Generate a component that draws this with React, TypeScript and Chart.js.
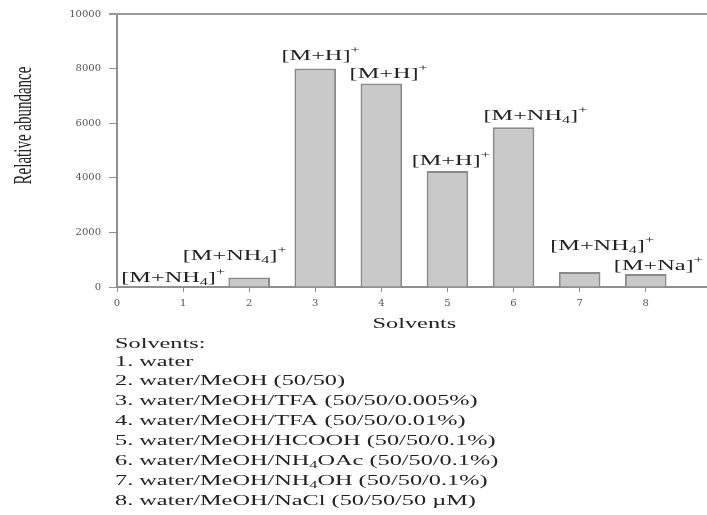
import React, { useEffect, useRef } from "react";
import { Chart, registerables } from "chart.js";

Chart.register(...registerables);

// ---- data ----
const solventIds = [1, 2, 3, 4, 5, 6, 7, 8];
const abundance = [0, 350, 8000, 7450, 4250, 5850, 550, 480];
const ionLabels = [
  "[M+NH_{4}]^{+}",
  "[M+NH_{4}]^{+}",
  "[M+H]^{+}",
  "[M+H]^{+}",
  "[M+H]^{+}",
  "[M+NH_{4}]^{+}",
  "[M+NH_{4}]^{+}",
  "[M+Na]^{+}",
];
// label anchor (centre x, baseline y) in data units
const ionLabelX = [0.85, 1.78, 3.08, 4.11, 5.05, 6.33, 7.34, 8.19];
const ionLabelY = [183, 988, 8306, 7647, 4464, 6110, 1354, 622];
const xMin = 0;
const xMax = 9;
const yMin = 0;
const yMax = 10000;
const yStep = 2000;
const xTitle = "Solvents";
const yTitle = "Relative abundance";
const legendTitle = "Solvents:";
const solventNames = [
  "1. water",
  "2. water/MeOH (50/50)",
  "3. water/MeOH/TFA (50/50/0.005%)",
  "4. water/MeOH/TFA (50/50/0.01%)",
  "5. water/MeOH/HCOOH (50/50/0.1%)",
  "6. water/MeOH/NH_{4}OAc (50/50/0.1%)",
  "7. water/MeOH/NH_{4}OH (50/50/0.1%)",
  "8. water/MeOH/NaCl (50/50/50 µM)",
];

const FONT = "'Liberation Serif', 'Times New Roman', serif";
const TEXT = "#222";
const STRETCH = 1.62;

type Seg = { t: string; k: "n" | "sub" | "sup" };
function parseRich(s: string): Seg[] {
  const out: Seg[] = [];
  const re = /(_\{[^}]*\}|\^\{[^}]*\})/g;
  let last = 0;
  let m: RegExpExecArray | null;
  while ((m = re.exec(s))) {
    if (m.index > last) out.push({ t: s.slice(last, m.index), k: "n" });
    const tok = m[0];
    out.push({ t: tok.slice(2, -1), k: tok[0] === "_" ? "sub" : "sup" });
    last = m.index + tok.length;
  }
  if (last < s.length) out.push({ t: s.slice(last), k: "n" });
  return out;
}

function drawRich(
  ctx: CanvasRenderingContext2D,
  s: string,
  x: number,
  y: number,
  size: number,
  align: "left" | "center",
  stretch: number
) {
  const segs = parseRich(s);
  const fontFor = (k: string) =>
    `${k === "n" ? size : Math.round(size * 0.68)}px ${FONT}`;
  let w = 0;
  const widths = segs.map((sg) => {
    ctx.font = fontFor(sg.k);
    const mw = ctx.measureText(sg.t).width;
    w += mw;
    return mw;
  });
  ctx.save();
  ctx.translate(x, y);
  ctx.scale(stretch, 1);
  ctx.fillStyle = TEXT;
  ctx.textBaseline = "alphabetic";
  ctx.textAlign = "left";
  let cx = align === "center" ? -w / 2 : 0;
  segs.forEach((sg, i) => {
    ctx.font = fontFor(sg.k);
    const dy = sg.k === "sub" ? size * 0.22 : sg.k === "sup" ? -size * 0.45 : 0;
    ctx.fillText(sg.t, cx, dy);
    cx += widths[i];
  });
  ctx.restore();
}

const annotate = {
  id: "annotate",
  afterDraw(chart: any) {
    const { ctx, chartArea, scales } = chart;
    const xs = scales.x;
    const ys = scales.y;
    // top frame line
    ctx.save();
    ctx.strokeStyle = "#9a9a9a";
    ctx.lineWidth = 2;
    ctx.beginPath();
    ctx.moveTo(chartArea.left - 8, chartArea.top);
    ctx.lineTo(chartArea.right, chartArea.top);
    ctx.stroke();
    ctx.restore();

    // ion labels
    ionLabels.forEach((lab, i) => {
      drawRich(
        ctx,
        lab,
        xs.getPixelForValue(ionLabelX[i]),
        ys.getPixelForValue(ionLabelY[i]),
        15,
        "center",
        STRETCH
      );
    });

    // y title (rotated)
    ctx.save();
    ctx.translate(25, (chartArea.top + chartArea.bottom) / 2 - 25);
    ctx.scale(STRETCH, 1);
    ctx.rotate(-Math.PI / 2);
    ctx.font = `15px ${FONT}`;
    ctx.fillStyle = TEXT;
    ctx.textAlign = "center";
    ctx.textBaseline = "middle";
    ctx.fillText(yTitle, 0, 0);
    ctx.restore();

    // x title
    drawRich(ctx, xTitle, (chartArea.left + chartArea.right) / 2, chartArea.bottom + 41, 15, "center", STRETCH);

    // legend block
    const lx = 115;
    drawRich(ctx, legendTitle, lx, chartArea.bottom + 61, 15, "left", STRETCH);
    solventNames.forEach((s, i) => {
      const base = [79, 98, 118, 138, 158, 178, 198, 218][i];
      drawRich(ctx, s, lx, chartArea.bottom + base, 15, "left", STRETCH);
    });
  },
};

export default function App() {
  const ref = useRef<HTMLCanvasElement | null>(null);
  useEffect(() => {
    if (!ref.current) return;
    const chart = new Chart(ref.current, {
      type: "bar",
      data: {
        datasets: [
          {
            data: solventIds.map((id, i) => ({ x: id, y: abundance[i] })),
            backgroundColor: "#c9c9c9",
            borderColor: "#8a8a8a",
            borderWidth: 2,
            barPercentage: 0.63,
            categoryPercentage: 1,
          },
        ],
      },
      options: {
        responsive: false,
        animation: false,
        devicePixelRatio: 1,
        layout: { padding: { top: 14, right: 7, left: 0, bottom: 0 } },
        plugins: { legend: { display: false }, tooltip: { enabled: false } },
        scales: {
          x: {
            type: "linear",
            min: xMin,
            max: xMax,
            offset: false,
            afterFit: (s: any) => {
              s.height = 515 - 287;
            },
            grid: {
              offset: false,
              drawOnChartArea: false,
              drawTicks: true,
              tickLength: 5,
              color: "#8f8f8f",
            },
            border: { color: "#8f8f8f", width: 2 },
            ticks: {
              stepSize: 1,
              padding: 5,
              color: "#555",
              font: { family: "'DejaVu Serif', serif", size: 10 },
            },
          },
          y: {
            min: yMin,
            max: yMax,
            afterFit: (s: any) => {
              s.width = 117;
            },
            grid: {
              drawOnChartArea: false,
              drawTicks: true,
              tickLength: 8,
              color: "#8f8f8f",
            },
            border: { color: "#8f8f8f", width: 2 },
            ticks: {
              stepSize: yStep,
              padding: 8,
              color: "#555",
              font: { family: "'DejaVu Serif', serif", size: 10 },
              callback: (v: any) => String(v),
            },
          },
        },
      },
      plugins: [annotate],
    } as any);
    return () => chart.destroy();
  }, []);
  return (
    <div
      style={{
        position: "fixed",
        left: 0,
        top: 0,
        width: 707,
        height: 515,
        overflow: "hidden",
        background: "#fff",
      }}
    >
      <canvas ref={ref} width={720} height={515} style={{ width: 720, height: 515, display: "block" }} />
    </div>
  );
}
